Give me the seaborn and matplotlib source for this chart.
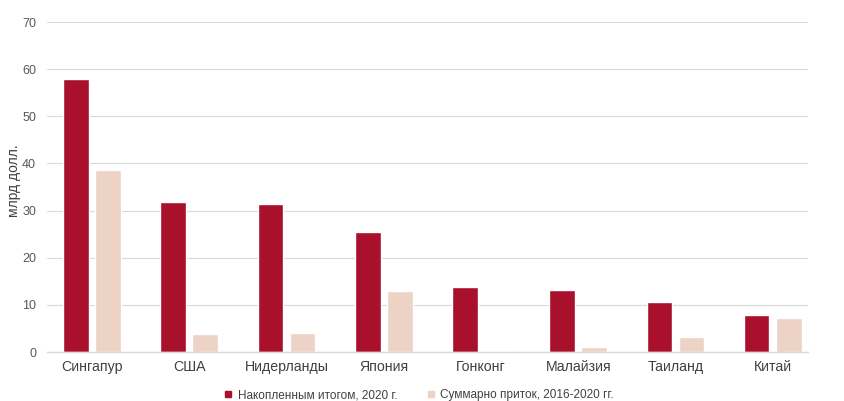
import matplotlib
matplotlib.use("Agg")
import matplotlib.pyplot as plt
from matplotlib.lines import Line2D
import seaborn as sns
import pandas as pd

countries = ["Сингапур", "США", "Нидерланды", "Япония", "Гонконг", "Малайзия", "Таиланд", "Китай"]
accumulated = [58.0, 31.8, 31.4, 25.5, 13.8, 13.2, 10.6, 7.9]
inflow = [38.6, 3.8, 4.0, 13.0, 0.3, 1.0, 3.2, 7.2]
series_names = ["Накопленным итогом, 2020 г.", "Суммарно приток, 2016-2020 гг."]
colors = ["#A8102C", "#EDD3C6"]

df = pd.DataFrame({
    "country": countries * 2,
    "value": accumulated + inflow,
    "series": [series_names[0]] * len(countries) + [series_names[1]] * len(countries),
})

sns.set_style("white")
plt.rcParams["font.family"] = ["Liberation Sans", "DejaVu Sans"]

fig = plt.figure(figsize=(8.44, 4.01), dpi=100)
ax = fig.add_axes([0.056, 0.122, 0.901, 0.823])

sns.barplot(data=df, x="country", y="value", hue="series", palette=colors,
            width=0.66, gap=0.2, ax=ax, legend=False, saturation=1)

ax.set_ylim(0, 70)
ax.set_yticks(range(0, 71, 10))
ax.set_xlim(-0.46, 7.36)
ax.yaxis.grid(True, color="#D9D9D9", linewidth=0.8)
ax.set_axisbelow(True)
for s in ["top", "right", "left"]:
    ax.spines[s].set_visible(False)
ax.spines["bottom"].set_color("#D9D9D9")
ax.spines["bottom"].set_linewidth(1.0)
ax.tick_params(axis="y", length=0, labelsize=9, colors="#595959", pad=8)
ax.tick_params(axis="x", length=0, labelsize=10.2, colors="#404040", pad=6)
ax.set_xlabel("")
ax.set_ylabel("млрд долл.", fontsize=10, color="#404040")
ax.yaxis.set_label_coords(-0.035, 0.52)

handles = [Line2D([], [], marker="s", linestyle="none", markersize=4.5,
                  markerfacecolor=c, markeredgecolor=c) for c in colors]
fig.legend(handles, series_names, loc="lower center", bbox_to_anchor=(0.492, -0.027),
           ncol=2, frameon=False, fontsize=8.5, handletextpad=-0.2, columnspacing=1.85,
           labelcolor="#404040")

fig.savefig("out.png", dpi=100)
